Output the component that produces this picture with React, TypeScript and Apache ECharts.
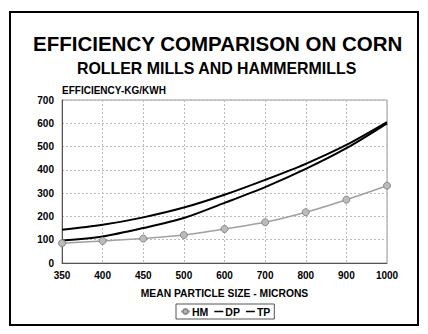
import React, { useEffect, useRef } from "react";
import * as echarts from "echarts";

const categories = ["350", "400", "450", "500", "600", "700", "800", "900", "1000"];
const hmValues = [85, 95, 105, 120, 146, 175, 218, 272, 332];
const dpValues = [97, 114, 150, 193, 258, 326, 404, 493, 600];
const tpValues = [143, 164, 196, 238, 293, 357, 426, 507, 605];

const FONT = "'Liberation Sans', Arial, sans-serif";
const LINE_ICON = "path://M0,0 L12,0 L12,2 L0,2 Z";

export default function App() {
  const ref = useRef<HTMLDivElement>(null);
  useEffect(() => {
    if (!ref.current) return;
    const chart = echarts.init(ref.current, null, { renderer: "svg" });
    chart.setOption({
      animation: false,
      backgroundColor: "#fff",
      textStyle: { fontFamily: FONT },
      title: [
        {
          text: "EFFICIENCY COMPARISON ON CORN",
          left: 33,
          top: 33,
          padding: 0,
          textStyle: { fontSize: 20.5, fontWeight: "bold", color: "#000", fontFamily: FONT },
        },
        {
          text: "ROLLER MILLS AND HAMMERMILLS",
          left: 77,
          top: 60,
          padding: 0,
          textStyle: { fontSize: 15.9, fontWeight: "bold", color: "#000", fontFamily: FONT },
        },
      ],
      graphic: [
        {
          type: "rect",
          shape: { x: 10, y: 12, width: 408, height: 313 },
          style: { fill: "none", stroke: "#000", lineWidth: 2 },
          silent: true,
        },
      ],
      grid: {
        left: 62,
        right: 41,
        top: 100,
        bottom: 71,
        show: true,
        borderColor: "#999",
        borderWidth: 1,
      },
      legend: {
        bottom: 15,
        left: 176,
        data: [
          { name: "HM" },
          { name: "DP", icon: LINE_ICON },
          { name: "TP", icon: LINE_ICON },
        ],
        borderColor: "#555",
        borderWidth: 1,
        padding: [2, 4],
        itemGap: 6,
        itemWidth: 9,
        itemHeight: 6,
        textStyle: { fontSize: 10.5, fontWeight: "bold", color: "#000", fontFamily: FONT, padding: [0, 0, 0, -3] },
      },
      xAxis: {
        type: "category",
        data: categories,
        boundaryGap: false,
        name: "MEAN PARTICLE SIZE - MICRONS",
        nameLocation: "middle",
        nameGap: 25,
        nameTextStyle: { fontSize: 10.3, fontWeight: "bold", color: "#000", fontFamily: FONT },
        axisLine: { lineStyle: { color: "#555", width: 1 } },
        axisTick: { show: false },
        axisLabel: { fontSize: 10, fontWeight: "bold", color: "#000", margin: 7, fontFamily: FONT },
        splitLine: { show: true, lineStyle: { color: "#bbb", type: [2, 2], width: 1 } },
      },
      yAxis: {
        type: "value",
        min: 0,
        max: 700,
        interval: 100,
        name: "EFFICIENCY-KG/KWH",
        nameLocation: "end",
        nameGap: 5,
        nameTextStyle: { fontSize: 10, fontWeight: "bold", color: "#000", align: "left", fontFamily: FONT },
        axisLine: { show: true, lineStyle: { color: "#555", width: 1 } },
        axisTick: { show: false },
        axisLabel: { fontSize: 10, fontWeight: "bold", color: "#000", margin: 8, fontFamily: FONT },
        splitLine: { show: true, lineStyle: { color: "#bbb", type: [2, 2], width: 1 } },
      },
      series: [
        {
          name: "HM",
          type: "line",
          data: hmValues,
          smooth: 0.2,
          symbol: "circle",
          symbolSize: 7,
          lineStyle: { color: "#a0a0a0", width: 1.5 },
          itemStyle: { color: "#bbb", borderColor: "#8a8a8a", borderWidth: 1 },
        },
        {
          name: "DP",
          type: "line",
          data: dpValues,
          smooth: 0.3,
          symbol: "none",
          lineStyle: { color: "#000", width: 2 },
          itemStyle: { color: "#000" },
        },
        {
          name: "TP",
          type: "line",
          data: tpValues,
          smooth: 0.3,
          symbol: "none",
          lineStyle: { color: "#000", width: 2 },
          itemStyle: { color: "#000" },
        },
      ],
    });
    return () => chart.dispose();
  }, []);
  return <div ref={ref} style={{ width: 428, height: 334, position: "absolute", left: 0, top: 0 }} />;
}
